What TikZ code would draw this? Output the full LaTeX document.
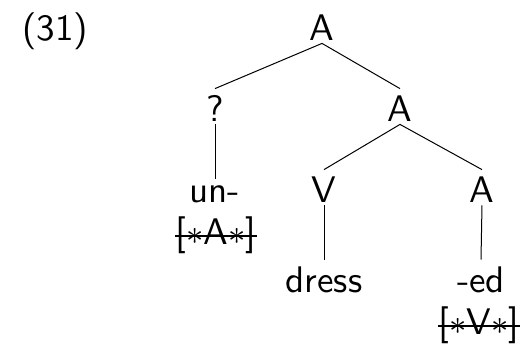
\documentclass[tikz,border=0pt]{standalone}
\usepackage{fontspec}
\newfontfamily\treefont{lmsans10-regular}[Extension=.otf]
\usetikzlibrary{math}
\begin{document}
\begin{tikzpicture}[x=0.5pt,y=-0.5pt,
  lbl/.style={anchor=base, inner sep=0pt, font=\fontsize{18.5}{22}\selectfont\treefont},
  cat/.style={lbl, text height=16pt, text depth=1.5pt},
  branch/.style={line width=0.5pt},
  struck/.style={line width=1pt}]
\useasboundingbox (0,0) rectangle (526,344);

\tikzmath{
\rowa = 40;
\rowb = 121;
\rowc = 202;
\rowd = 292;
}

\node[lbl, anchor=base west] (exnum) at (22,\rowa) {(31)};

\node[cat] (top) at (322,\rowa) {A};
\node[cat] (q) at (215,\rowb) {?};
\node[cat] (amid) at (400,\rowb) {A};
\node[cat, text height=11.5pt] (un) at (215,\rowc) {un-};
\node[lbl] (unfeat) at (216,244) {[$\ast$A$\ast$]};
\node[cat] (v) at (324,\rowc) {V};
\node[cat] (alow) at (482,\rowc) {A};
\node[cat] (dress) at (324,\rowd) {dress};
\node[cat] (ed) at (481,\rowd) {-ed};
\node[lbl] (edfeat) at (479,334) {[$\ast$V$\ast$]};

\draw[branch] (top.south) -- (q.north);
\draw[branch] (top.south) -- (amid.north);
\draw[branch] (q.south) -- (un.north);
\draw[branch] (amid.south) -- (v.north);
\draw[branch] (amid.south) -- (alow.north);
\draw[branch] (v.south) -- (dress.north);
\draw[branch] (alow.south) -- (ed.north);

%struck out features
\draw[struck] ([yshift=4pt]unfeat.base west) -- ([yshift=4pt]unfeat.base east);
\draw[struck] ([yshift=4pt]edfeat.base west) -- ([yshift=4pt]edfeat.base east);

\end{tikzpicture}
\end{document}
